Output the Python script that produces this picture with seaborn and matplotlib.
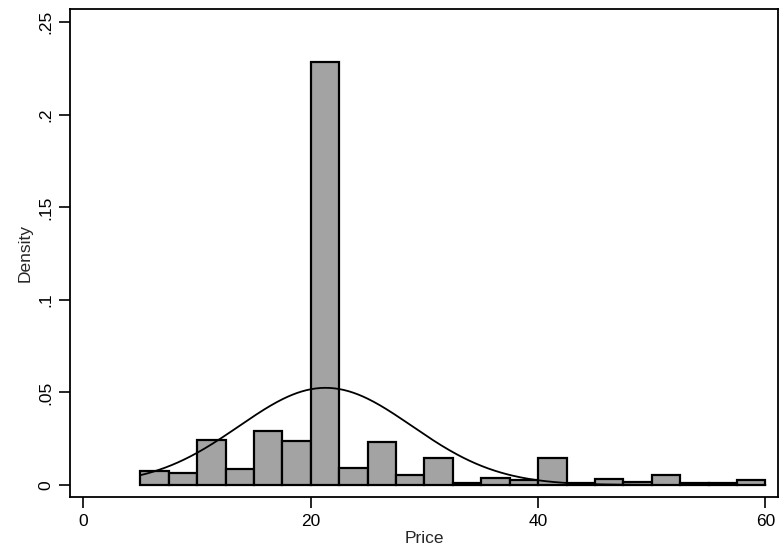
import numpy as np
import pandas as pd
import seaborn as sns
import matplotlib
matplotlib.use("Agg")
import matplotlib.pyplot as plt

# ---- data ----
bin_edges = [5.0, 7.5, 10.0, 12.5, 15.0, 17.5, 20.0, 22.5, 25.0, 27.5, 30.0, 32.5,
             35.0, 37.5, 40.0, 42.5, 45.0, 47.5, 50.0, 52.5, 55.0, 57.5, 60.0]
densities = [0.0074, 0.0062, 0.0245, 0.0089, 0.0290, 0.0236, 0.2284, 0.0094,
             0.0233, 0.0056, 0.0146, 0.0008, 0.0035, 0.0025, 0.0148, 0.0010,
             0.0032, 0.0015, 0.0056, 0.0008, 0.0012, 0.0027]
norm_mean = 21.3
norm_sd = 7.6
price_min, price_max = 5.0, 60.0
x_ticks = [0, 20, 40, 60]
y_ticks = [0, 0.05, 0.10, 0.15, 0.20, 0.25]
y_tick_labels = ["0", ".05", ".1", ".15", ".2", ".25"]

sns.set_theme(style="white")
plt.rcParams["font.family"] = ["Liberation Sans", "DejaVu Sans"]

centers = [(a + b) / 2 for a, b in zip(bin_edges[:-1], bin_edges[1:])]
hist_df = pd.DataFrame({"Price": centers, "Density": densities})

xs = np.linspace(price_min, price_max, 400)
ys = np.exp(-0.5 * ((xs - norm_mean) / norm_sd) ** 2) / (norm_sd * np.sqrt(2 * np.pi))
curve_df = pd.DataFrame({"Price": xs, "Density": ys})

fig = plt.figure(figsize=(7.83, 5.56), dpi=100)
ax = fig.add_axes([70 / 783, 1 - 497 / 556, (778 - 70) / 783, (497 - 9) / 556])

sns.histplot(data=hist_df, x="Price", weights="Density", bins=bin_edges, stat="count",
             color="#a3a3a3", edgecolor="black", linewidth=1.6, alpha=1.0, ax=ax)
sns.lineplot(data=curve_df, x="Price", y="Density", color="black", linewidth=1.3, ax=ax)

ax.set_xlim(-1.18, 61.1)
ax.set_ylim(-0.0065, 0.2572)
ax.set_xticks(x_ticks)
ax.set_xticklabels([str(t) for t in x_ticks])
ax.set_yticks(y_ticks)
ax.set_yticklabels(y_tick_labels, rotation=90, va="center")
ax.tick_params(axis="both", direction="out", length=8, width=1.2, labelsize=12.5,
               pad=4, colors="black", bottom=True, left=True)
ax.set_xlabel("Price", fontsize=12.5, labelpad=2)
ax.set_ylabel("Density", fontsize=12.5, labelpad=4)
for s in ax.spines.values():
    s.set_visible(True)
    s.set_color("black")
    s.set_linewidth(1.3)
ax.grid(False)

fig.savefig("out.png", dpi=100)
